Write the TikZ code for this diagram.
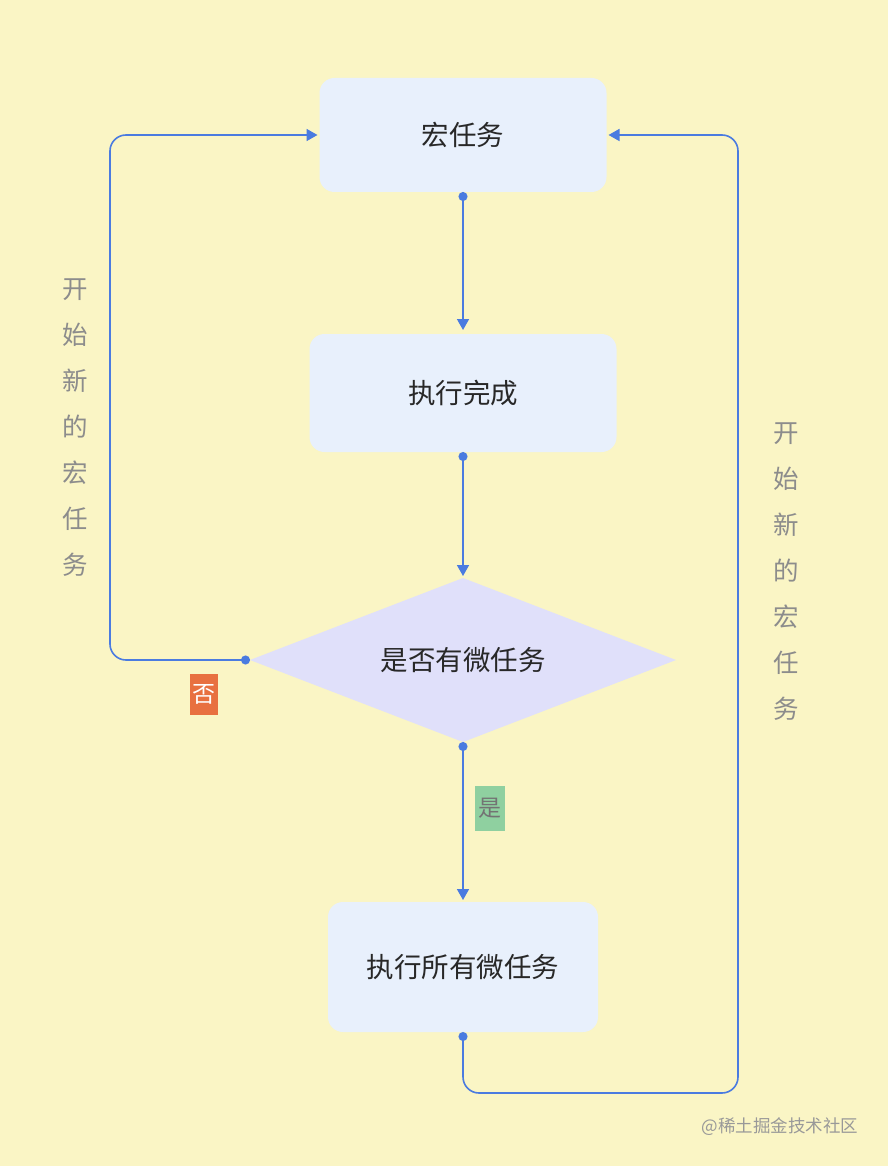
\documentclass[tikz,border=0pt]{standalone}
\usepackage{fontspec}
\setmainfont{Noto Sans CJK SC}
\usetikzlibrary{arrows.meta,shapes.geometric}
\definecolor{bg}{RGB}{250,245,197}
\definecolor{boxfill}{RGB}{232,240,252}
\definecolor{diafill}{RGB}{224,224,250}
\definecolor{conncol}{RGB}{74,123,224}
\definecolor{nocol}{RGB}{232,112,64}
\definecolor{yescol}{RGB}{143,208,160}
\definecolor{sidecol}{RGB}{140,140,140}
\definecolor{txt}{RGB}{40,40,40}
\tikzset{
  x=1pt, y=-1pt,
  stepbox/.style={rectangle, rounded corners=15pt, fill=boxfill, draw=none, text=txt, font=\fontsize{27.5}{32}\selectfont, inner sep=0pt, outer sep=0pt},
  decide/.style={diamond, aspect=2.6, fill=diafill, draw=none, text=txt, font=\fontsize{27.5}{32}\selectfont, inner sep=0pt, outer sep=0pt, minimum width=426pt, minimum height=164pt},
  conn/.style={draw=conncol, line width=1.6pt, {Circle[length=9pt]}-{Triangle[length=11pt,width=12pt]}},
  loopconn/.style={conn, rounded corners=16pt},
  sidelabel/.style={text=sidecol, font=\fontsize{25.5}{46}\selectfont, align=center, inner sep=0pt},
  tag/.style={inner sep=0pt, font=\fontsize{23}{26}\selectfont}
}
\begin{document}
\begin{tikzpicture}
\fill[bg] (0,0) rectangle (888,1166);
\useasboundingbox (0,0) rectangle (888,1166);

\node[stepbox, minimum width=287pt, minimum height=114pt] (b1) at (463,135) {宏任务};
\node[stepbox, minimum width=307pt, minimum height=118pt] (b2) at (463,393) {执行完成};
\node[decide] (d) at (463,660) {是否有微任务};
\node[stepbox, minimum width=270pt, minimum height=130pt] (b3) at (463,967) {执行所有微任务};

\coordinate (lc) at (110,400);
\coordinate (rc) at (738,1093);

\draw[conn] (b1.south) -- ([yshift=4pt]b2.north);
\draw[conn] (b2.south) -- ([yshift=2pt]d.north);
\draw[conn] (d.south) -- ([yshift=2pt]b3.north);
\draw[loopconn] (d.west) -| (lc) |- ([xshift=-2pt]b1.west);
\draw[loopconn] (b3.south) |- (rc) |- ([xshift=2pt]b1.east);

\node[tag, fill=nocol, text=white, minimum width=28pt, minimum height=41pt] (no) at (204,694.5) {否};
\node[tag, fill=yescol, text=black!55, minimum width=30pt, minimum height=45pt] (yes) at (490,808.5) {是};

\node[sidelabel] (ls) at (75,428) {开\\始\\新\\的\\宏\\任\\务};
\node[sidelabel] (rs) at (786,572) {开\\始\\新\\的\\宏\\任\\务};

\node[text=black!40, font=\fontsize{17.5}{20}\selectfont, inner sep=0pt] (wm) at (780,1127) {@稀土掘金技术社区};
\end{tikzpicture}
\end{document}
